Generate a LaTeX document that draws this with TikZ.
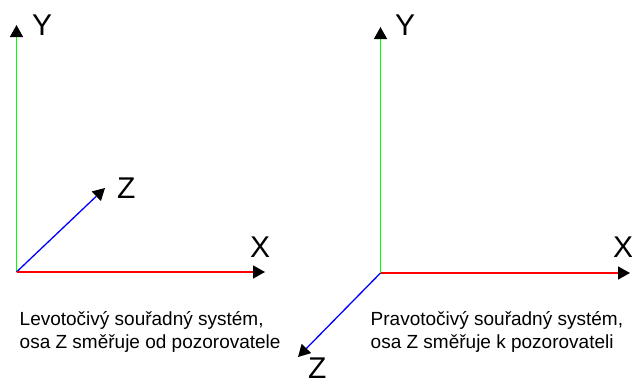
\documentclass[tikz,border=0pt]{standalone}
\usepackage{fontspec}
\setmainfont{Liberation Sans}
\usetikzlibrary{arrows.meta}
\definecolor{axgreen}{RGB}{0,255,0}
\definecolor{axred}{RGB}{255,0,0}
\definecolor{axblue}{RGB}{0,0,255}
\begin{document}
\begin{tikzpicture}[x=1pt,y=-1pt,
  axis/.style={line width=1.3pt,-{Triangle[length=12pt,width=13pt,black]}},
  biglabel/.style={inner sep=0pt,anchor=base west,font=\fontsize{30}{36}\selectfont},
  caption/.style={inner sep=0pt,anchor=base west,font=\fontsize{19}{23}\selectfont}]
\useasboundingbox (0,0) rectangle (632,380);
% left system
\coordinate (O1) at (16.5,272);
\coordinate (Y1) at (16.5,25);
\coordinate (X1) at (265,272);
\coordinate (Z1) at (105,188);
\draw[axis,draw=axgreen] (O1) -- (Y1);
\draw[axis,draw=axblue] (O1) -- (Z1);
\draw[axis,draw=axred] (O1) -- (X1);
\node[biglabel] (LY1) at (32,35) {Y};
\node[biglabel] (LX1) at (250,257) {X};
\node[biglabel] (LZ1) at (117,198) {Z};
\node[caption] (C1a) at (19.5,325) {Levotočivý souřadný systém,};
\node[caption] (C1b) at (19.5,348) {osa Z směřuje od pozorovatele};
% right system
\coordinate (O2) at (380.5,273);
\coordinate (Y2) at (380.5,27);
\coordinate (X2) at (630,273);
\coordinate (Z2) at (298,357);
\draw[axis,draw=axgreen] (O2) -- (Y2);
\draw[axis,draw=axblue] (O2) -- (Z2);
\draw[axis,draw=axred] (O2) -- (X2);
\node[biglabel] (LY2) at (395,35) {Y};
\node[biglabel] (LX2) at (613,257) {X};
\node[biglabel] (LZ2) at (308,378) {Z};
\node[caption] (C2a) at (370.5,325) {Pravotočivý souřadný systém,};
\node[caption] (C2b) at (370.5,348) {osa Z směřuje k pozorovateli};
\end{tikzpicture}
\end{document}
